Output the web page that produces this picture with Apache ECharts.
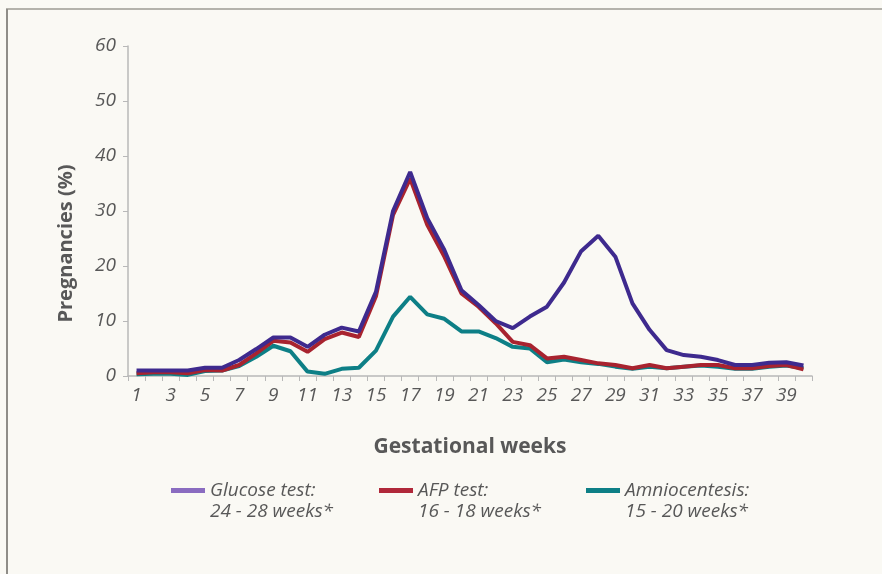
<!DOCTYPE html>
<html>
<head>
<meta charset="utf-8">
<script src="https://cdn.jsdelivr.net/npm/echarts@6/dist/echarts.min.js"></script>
<style>
html,body{margin:0;padding:0;background:#faf9f4;}
#chart{width:882px;height:574px;}
</style>
</head>
<body>
<div id="chart"></div>
<script>
const weeks = Array.from({length: 40}, (_, i) => String(i + 1));
const glucoseName = 'Glucose test:\n24 - 28 weeks*';
const afpName = 'AFP test:\n16 - 18 weeks*';
const amnioName = 'Amniocentesis:\n15 - 20 weeks*';
const glucose = [1.0,1.0,1.0,1.0,1.5,1.5,2.9,4.9,7.0,7.0,5.3,7.5,8.8,8.1,15.3,30.0,37.1,28.7,22.9,15.6,12.9,10.0,8.7,10.8,12.6,17.0,22.7,25.5,21.7,13.2,8.4,4.7,3.8,3.5,2.9,2.0,2.0,2.4,2.5,1.9];
const afp = [0.5,0.7,0.7,0.5,1.1,1.0,2.0,4.1,6.4,6.1,4.4,6.7,7.9,7.1,14.5,29.3,35.9,27.5,21.7,15.0,12.6,9.6,6.2,5.6,3.2,3.5,2.9,2.3,2.0,1.4,2.0,1.4,1.7,2.0,2.0,1.4,1.4,1.8,2.0,1.2];
const amnio = [0.3,0.4,0.4,0.2,0.9,1.0,1.8,3.5,5.5,4.5,0.8,0.4,1.3,1.5,4.6,10.8,14.4,11.2,10.4,8.1,8.1,6.9,5.3,5.0,2.5,3.0,2.5,2.2,1.7,1.3,1.7,1.4,1.7,1.9,1.7,1.3,1.3,1.7,1.9,1.4];
const yTicks = [0, 60, 10];

const txt = '#585858';
const fontFam = '"Open Sans", "Noto Sans", sans-serif';
// legend icon: a bar on the first text line (tiny dot keeps the box tall)
const legendIcon = 'path://M0,0L34,0L34,5L0,5Z M0,25.99L0.01,25.99L0.01,26L0,26Z';

function legendFor(name, left, color) {
  return {
    left: left, top: 475,
    orient: 'horizontal',
    icon: legendIcon,
    itemWidth: 34, itemHeight: 26,
    selectedMode: false,
    data: [{name: name, itemStyle: {color: color, borderWidth: 0}}],
    textStyle: {
      color: txt, fontSize: 19, fontStyle: 'italic', fontFamily: fontFam,
      lineHeight: 21
    }
  };
}

const chart = echarts.init(document.getElementById('chart'), null, {renderer: 'canvas'});
chart.setOption({
  backgroundColor: '#faf9f4',
  animation: false,
  graphic: [
    {type: 'line', shape: {x1: 6, y1: 9, x2: 882, y2: 9}, style: {stroke: '#b4b2ab', lineWidth: 2}},
    {type: 'line', shape: {x1: 7, y1: 9, x2: 7, y2: 574}, style: {stroke: '#8f8d88', lineWidth: 2}}
  ],
  grid: {left: 128, right: 70, top: 46, bottom: 198, containLabel: false},
  legend: [
    legendFor(glucoseName, 166, '#8a6cc0'),
    legendFor(afpName, 374, '#b0283a'),
    legendFor(amnioName, 581, '#0d7f86')
  ],
  xAxis: {
    type: 'category',
    data: weeks,
    boundaryGap: true,
    name: 'Gestational weeks',
    nameLocation: 'middle',
    nameGap: 61,
    nameTextStyle: {color: txt, fontSize: 21, fontWeight: 'bold', fontFamily: fontFam},
    axisLine: {lineStyle: {color: '#b8b8b8', width: 1.5}},
    axisTick: {show: true, length: 5, interval: 0, lineStyle: {color: '#b8b8b8'}},
    axisLabel: {interval: 1, color: txt, fontSize: 19, fontStyle: 'italic', fontFamily: fontFam, margin: 10},
    splitLine: {show: false}
  },
  yAxis: {
    type: 'value',
    min: yTicks[0], max: yTicks[1], interval: yTicks[2],
    name: 'Pregnancies (%)',
    nameLocation: 'middle',
    nameGap: 52,
    nameTextStyle: {color: txt, fontSize: 20, fontWeight: 'bold', fontFamily: fontFam, padding: [0, 65, 0, 0]},
    axisLine: {show: true, lineStyle: {color: '#b8b8b8', width: 1.5}},
    axisTick: {show: true, length: 5, lineStyle: {color: '#b8b8b8'}},
    axisLabel: {color: txt, fontSize: 19, fontStyle: 'italic', fontFamily: fontFam, margin: 12},
    splitLine: {show: false}
  },
  series: [
    {name: amnioName, type: 'line', data: amnio, showSymbol: false, symbol: 'none',
     lineStyle: {color: '#0d7f86', width: 4}, itemStyle: {color: '#0d7f86'}, z: 2},
    {name: afpName, type: 'line', data: afp, showSymbol: false, symbol: 'none',
     lineStyle: {color: '#a8232f', width: 4}, itemStyle: {color: '#a8232f'}, z: 3},
    {name: glucoseName, type: 'line', data: glucose, showSymbol: false, symbol: 'none',
     lineStyle: {color: '#3e2a8e', width: 4}, itemStyle: {color: '#3e2a8e'}, z: 4}
  ]
});
</script>
</body>
</html>
